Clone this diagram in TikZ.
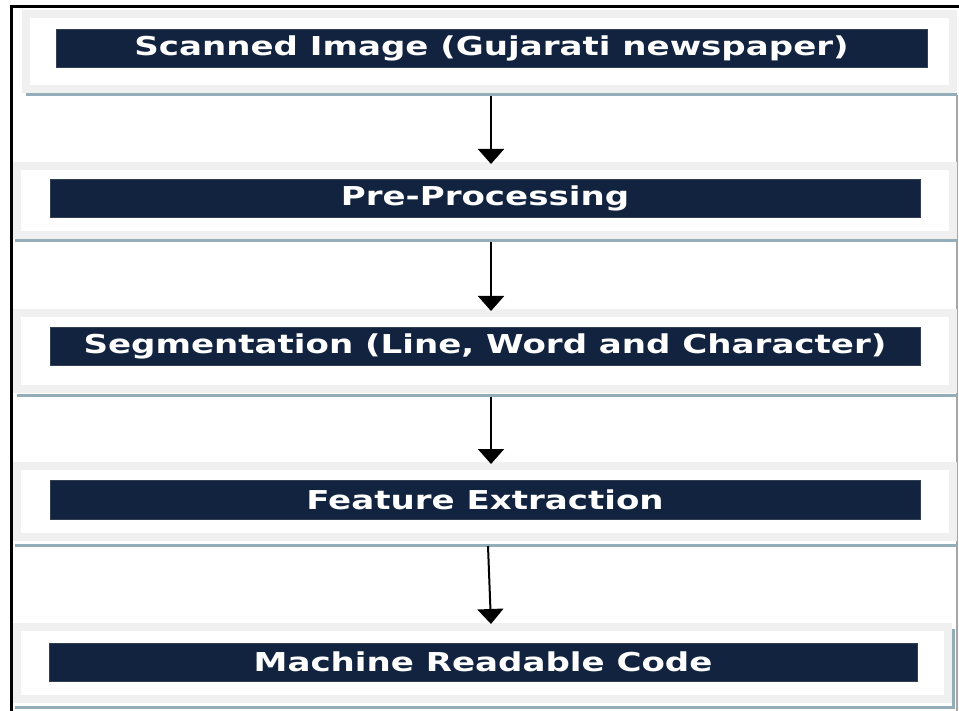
\documentclass[tikz,border=0pt]{standalone}
\usepackage{fontspec}
\usetikzlibrary{arrows.meta}
\newfontfamily\barfont{DejaVu Sans}[FakeStretch=1.31]
\definecolor{barnavy}{HTML}{12233F}
\definecolor{panelgray}{HTML}{F0F0F0}
\definecolor{shadowblue}{HTML}{93AEB8}

\tikzset{
  panel/.style={draw=panelgray, line width=8pt, fill=white, outer sep=0pt, inner sep=0pt},
  bar/.style={fill=barnavy, draw=barnavy!70!gray, line width=0.8pt, text=white, inner sep=0pt,
    minimum height=38pt, font=\barfont\bfseries\fontsize{26}{30}\selectfont},
  flow/.style={line width=2pt, -{Triangle[width=26pt,length=15pt]}},
  shade/.style={shadowblue, line width=3pt}
}

\begin{document}
\begin{tikzpicture}[x=1pt,y=-1pt]
\useasboundingbox (0,0) rectangle (959,711);

\draw[line width=3pt] (11,713) -- (11,7) -- (961,7);
\draw[gray!70, line width=1.5pt] (957,95) -- (957,713);

\node[panel, minimum width=927pt, minimum height=75pt] (p1) at (489.5,51.5) {};
\node[panel, minimum width=936pt, minimum height=69pt] (p2) at (485,200.5) {};
\node[panel, minimum width=936pt, minimum height=76pt] (p3) at (485,351) {};
\node[panel, minimum width=936pt, minimum height=71pt] (p4) at (485,501.5) {};
\node[panel, minimum width=931pt, minimum height=72pt] (p5) at (482.5,663) {};

\draw[shade] ([yshift=-6pt]p1.south west) -- ([xshift=4pt,yshift=-6pt]p1.south east);
\draw[shade] ([xshift=-2pt,yshift=-6pt]p2.south west) -- ([xshift=4pt,yshift=-6pt]p2.south east);
\draw[shade] ([yshift=-7pt]p3.south west) -- ([xshift=4pt,yshift=-7pt]p3.south east);
\draw[shade] ([xshift=-2pt,yshift=-8pt]p4.south west) -- ([xshift=4pt,yshift=-8pt]p4.south east);
\draw[shade] ([xshift=-2pt,yshift=-8pt]p5.south west) -- ([xshift=5pt,yshift=-8pt]p5.south east)
  -- ([xshift=5pt,yshift=-2pt]p5.north east);

\node[bar, minimum width=871pt] (scanned) at (491.5,48) {Scanned Image (Gujarati newspaper)};
\node[bar, minimum width=870pt] (preproc) at (485,198) {Pre-Processing};
\node[bar, minimum width=870pt] (segment) at (485,346) {Segmentation (Line, Word and Character)};
\node[bar, minimum width=870pt, minimum height=39pt] (feature) at (485,499.5) {Feature Extraction};
\node[bar, minimum width=868pt] (machine) at (483,662) {Machine Readable Code};

\coordinate (axis) at (491,0);
\draw[flow] ([yshift=-7pt]p1.south -| axis) -- ([yshift=2pt]p2.north -| axis);
\draw[flow] ([yshift=-7pt]p2.south -| axis) -- ([yshift=2pt]p3.north -| axis);
\draw[flow] ([yshift=-8pt]p3.south -| axis) -- ([yshift=2pt]p4.north -| axis);
\draw[flow] ([xshift=-3pt,yshift=-9pt]p4.south -| axis) -- ([yshift=3pt]p5.north -| axis);

\end{tikzpicture}
\end{document}
